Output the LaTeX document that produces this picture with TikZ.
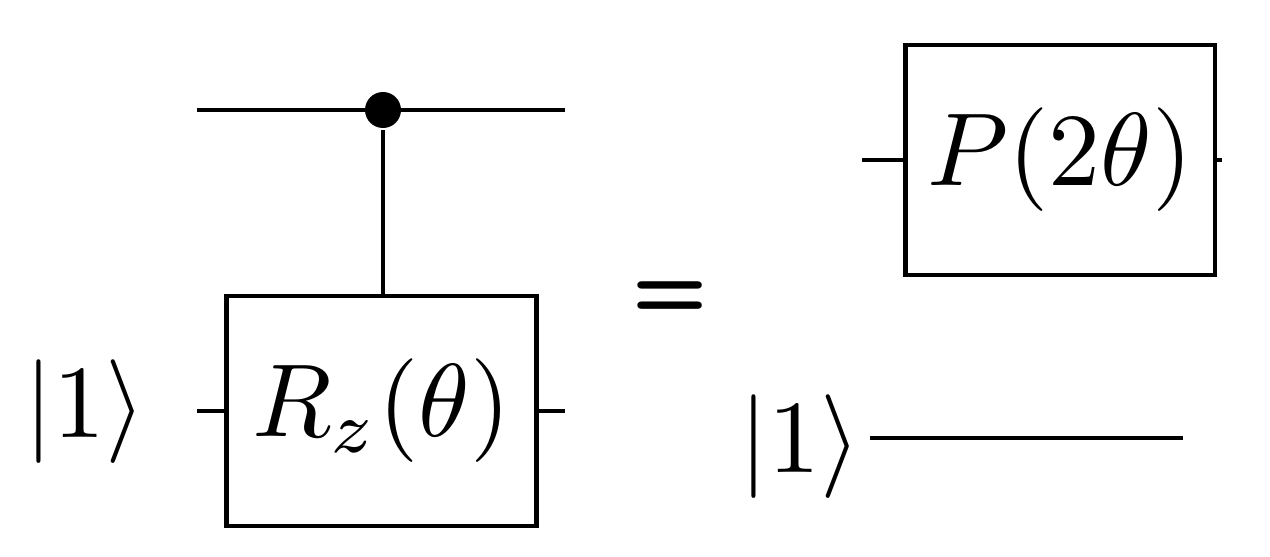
\documentclass[tikz,border=0pt]{standalone}
\begin{document}
\begin{tikzpicture}[x=0.02cm,y=-0.02cm,line width=2.8pt,
  gate/.style={draw,minimum width=6.2cm,minimum height=4.6cm,inner sep=0pt},
  lbl/.style={scale=5.9,inner sep=0pt}]
\useasboundingbox (0,0) rectangle (1270,557);
% left circuit
\coordinate (t0) at (197,110); \coordinate (t1) at (565,110);
\draw (t0) -- (t1);
\node[gate] (rz) at (381.5,411) {};
\node[lbl] (rzt) at (rz.center) {$R_z(\theta)$};
\node[circle,fill,inner sep=0pt,minimum size=0.72cm] (dot) at (383,110) {};
\draw (dot) -- (rz.north -| dot);
\coordinate (b0) at (197,411); \coordinate (b1) at (565,411);
\draw (b0) -- (rz.west); \draw (rz.east) -- (b1);
\node[lbl] (k1) at (85,412) {$|1\rangle$};
\node[scale=5,font=\bfseries\sffamily] (eq) at (670,300) {=};
% right circuit
\node[gate] (p) at (1060,160) {};
\node[lbl] (pt) at (p.center) {$P(2\theta)$};
\coordinate (p0) at (862,160); \coordinate (p1) at (1222,160);
\draw (p0) -- (p.west); \draw (p.east) -- (p1);
\node[lbl] (k2) at (800,447) {$|1\rangle$};
\coordinate (w0) at (870,438); \coordinate (w1) at (1183,438);
\draw (w0) -- (w1);
\end{tikzpicture}
\end{document}
